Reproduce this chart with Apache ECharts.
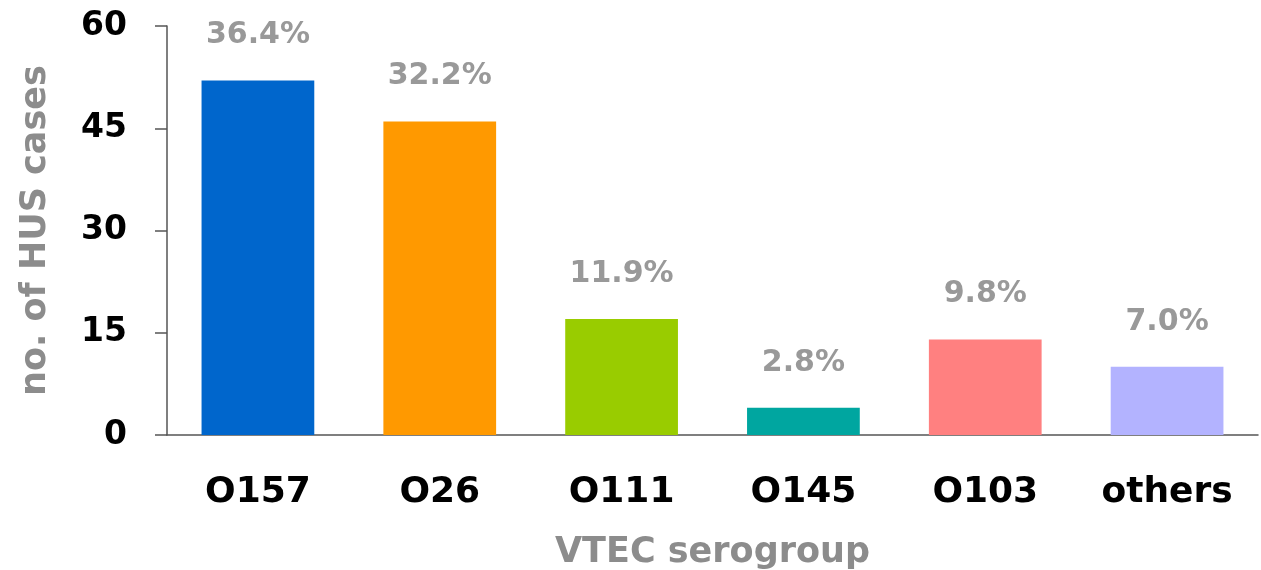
<!DOCTYPE html>
<html>
<head>
<meta charset="utf-8">
<script src="https://cdn.jsdelivr.net/npm/echarts@6/dist/echarts.min.js"></script>
<style>
    html, body { margin: 0; padding: 0; background: #fff; }
    #chart { width: 1261px; height: 570px; }
</style>
</head>
<body>
<div id="chart"></div>
<script>
// 血清型
var categories = ['O157', 'O26', 'O111', 'O145', 'O103', 'others'];
// HUS 病例数
var cases = [52, 46, 17, 4, 14, 10];
// 百分比标签
var percents = ['36.4%', '32.2%', '11.9%', '2.8%', '9.8%', '7.0%'];
var colors = ['#0066cc', '#ff9900', '#99cc00', '#00a6a0', '#ff8080', '#b3b3ff'];

var myChart = echarts.init(document.getElementById('chart'));

var barData = [];
for (var i = 0; i < cases.length; i++) {
    barData.push({
        value: cases[i],
        itemStyle: { color: colors[i] },
        label: { formatter: percents[i] }
    });
}

var option = {
    animation: false,
    grid: {
        left: 167,
        right: 3,
        top: 26,
        bottom: 135,
        outerBoundsMode: 'none'
    },
    xAxis: {
        type: 'category',
        data: categories,
        name: 'VTEC serogroup',
        nameLocation: 'middle',
        nameGap: 100,
        nameTextStyle: {
            color: '#8c8c8c',
            fontFamily: 'DejaVu Sans',
            fontWeight: 'bold',
            fontSize: 35
        },
        axisLine: { lineStyle: { color: '#555', width: 1.5 } },
        axisTick: { length: 13, lineStyle: { color: '#555', width: 1.5 } },
        axisLabel: {
            color: '#000',
            fontFamily: 'DejaVu Sans',
            fontWeight: 'bold',
            fontSize: 36,
            margin: 40
        }
    },
    yAxis: {
        type: 'value',
        min: 0,
        max: 60,
        interval: 15,
        name: 'no. of HUS cases',
        nameLocation: 'middle',
        nameGap: 114,
        nameTextStyle: {
            color: '#8c8c8c',
            fontFamily: 'DejaVu Sans',
            fontWeight: 'bold',
            fontSize: 35
        },
        splitLine: { show: false },
        axisLine: { show: true, lineStyle: { color: '#555', width: 1.5 } },
        axisTick: { show: true, length: 12, lineStyle: { color: '#555', width: 1.5 } },
        axisLabel: {
            color: '#000',
            fontFamily: 'DejaVu Sans',
            fontWeight: 'bold',
            fontSize: 33,
            margin: 40
        }
    },
    series: [
        {
            name: 'HUS',
            type: 'bar',
            barWidth: '62%',
            data: barData,
            label: {
                show: true,
                position: 'top',
                distance: 30,
                color: '#999',
                fontFamily: 'DejaVu Sans',
                fontWeight: 'bold',
                fontSize: 30
            }
        }
    ]
};

myChart.setOption(option);
</script>
</body>
</html>
